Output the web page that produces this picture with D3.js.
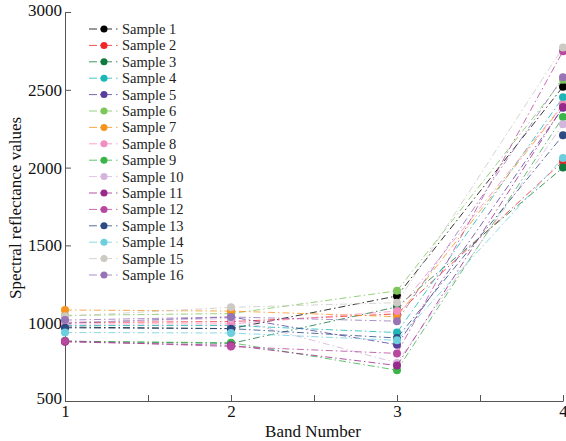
<!DOCTYPE html>
<html>
<head>
<meta charset="utf-8">
<script src="https://cdn.jsdelivr.net/npm/d3@7"></script>
<style>
  body { margin: 0; background: #fff; }
  text { font-family: "Liberation Serif", "Times New Roman", serif; }
</style>
</head>
<body>
<svg id="chart" width="566" height="441"></svg>
<script>
// band numbers on the x axis
var bands = [1, 2, 3, 4];
var sampleNames = ["Sample 1", "Sample 2", "Sample 3", "Sample 4", "Sample 5", "Sample 6",
  "Sample 7", "Sample 8", "Sample 9", "Sample 10", "Sample 11", "Sample 12",
  "Sample 13", "Sample 14", "Sample 15", "Sample 16"];
// reflectance per sample, one value per band
var reflectance = [
  [975, 965, 1175, 2520],
  [1005, 1010, 1060, 2040],
  [885, 870, 1105, 2000],
  [985, 985, 940, 2452],
  [1000, 1040, 862, 2385],
  [1050, 1062, 1208, 2565],
  [1085, 1078, 1042, 2400],
  [995, 995, 1078, 2405],
  [882, 875, 698, 2325],
  [1005, 1030, 745, 2278],
  [880, 858, 728, 2390],
  [886, 850, 806, 2748],
  [970, 965, 905, 2208],
  [940, 937, 890, 2062],
  [1045, 1102, 1132, 2772],
  [1020, 1040, 1013, 2580]
];
var yTicks = [500, 1000, 1500, 2000, 2500, 3000];
var xTicks = [1, 2, 3, 4];

var colors = ["#000000", "#f0262a", "#117a3e", "#1cb6b6", "#5a3e9b", "#7cc65a",
  "#f7941e", "#f28dbf", "#3bb54a", "#d4b5dd", "#982a8c", "#b8479f",
  "#2d4a83", "#6dcfdd", "#cdc9c3", "#9873b5"];

var svg = d3.select("#chart");
var x = d3.scaleLinear().domain([1, 4]).range([65, 563]);
var y = d3.scaleLinear().domain([500, 3000]).range([401, 12]);

// axes
var xAxis = d3.axisBottom(x).tickValues([1, 1.5, 2, 2.5, 3, 3.5, 4])
  .tickSizeInner(-6).tickSizeOuter(0)
  .tickFormat(function (d) { return xTicks.indexOf(d) >= 0 ? d : ""; });
var gx = svg.append("g").attr("transform", "translate(0,401)").call(xAxis);
gx.selectAll("text").attr("y", 4).attr("dy", "0.71em").style("font-size", "17px").attr("fill", "#111");

var yAxis = d3.axisLeft(y).tickValues(yTicks).tickSizeInner(-6).tickSizeOuter(0)
  .tickFormat(d3.format("d"));
var gy = svg.append("g").attr("transform", "translate(65,0)").call(yAxis);
gy.selectAll("text").attr("x", -3).style("font-size", "17px").attr("fill", "#111");
gy.selectAll("text").filter(function (d) { return d == 3000; }).attr("dy", "0.2em");
gy.selectAll("text").filter(function (d) { return d == 500; }).attr("dy", "0.15em");

svg.selectAll(".domain, .tick line").attr("stroke", "#555");

svg.append("text").attr("x", 313).attr("y", 437).attr("text-anchor", "middle")
  .style("font-size", "17px").attr("fill", "#111").text("Band Number");
svg.append("text").attr("transform", "translate(21,208) rotate(-90)")
  .attr("text-anchor", "middle").style("font-size", "17px").attr("fill", "#111")
  .text("Spectral reflectance values");

// lines + markers
var line = d3.line().x(function (d, i) { return x(bands[i]); }).y(function (d) { return y(d); });
var series = svg.append("g").selectAll("g").data(reflectance).enter().append("g");
series.append("path")
  .attr("d", line)
  .attr("fill", "none")
  .attr("stroke", function (d, i) { return colors[i]; })
  .attr("stroke-width", 1)
  .attr("stroke-opacity", 0.8)
  .attr("stroke-dasharray", "7,3,1.5,3");
series.selectAll("circle").data(function (d, i) { return d.map(function (v) { return { v: v, c: colors[i] }; }); })
  .enter().append("circle")
  .attr("cx", function (d, i) { return x(bands[i]); })
  .attr("cy", function (d) { return y(d.v); })
  .attr("r", 4)
  .attr("fill", function (d) { return d.c; });

// legend
var legend = svg.append("g").selectAll("g").data(sampleNames).enter().append("g")
  .attr("transform", function (d, i) { return "translate(0," + (29 + i * 16.4) + ")"; });
legend.append("line").attr("x1", 89).attr("x2", 119).attr("y1", 0).attr("y2", 0)
  .attr("stroke", function (d, i) { return colors[i]; })
  .attr("stroke-opacity", 0.8)
  .attr("stroke-dasharray", "8,3,12,4,1.5,10");
legend.append("circle").attr("cx", 104).attr("cy", 0).attr("r", 3.5)
  .attr("fill", function (d, i) { return colors[i]; });
legend.append("text").attr("x", 122).attr("y", 0).attr("dy", "0.35em")
  .style("font-size", "14.5px").attr("fill", "#222").text(function (d) { return d; });
</script>
</body>
</html>
